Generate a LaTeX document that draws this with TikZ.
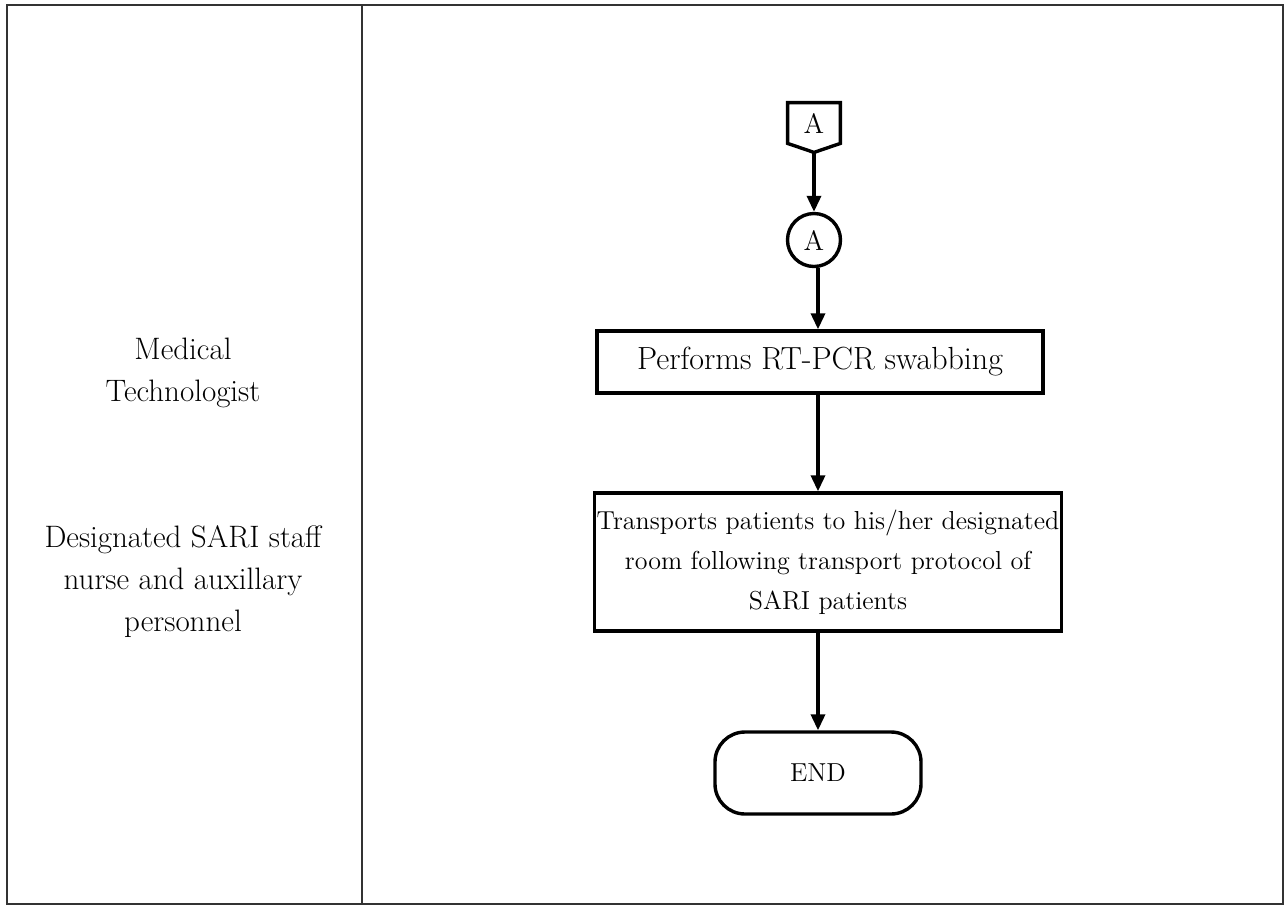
\documentclass[tikz,border=0pt]{standalone}
\usetikzlibrary{calc,arrows.meta}

\begin{document}
\begin{tikzpicture}[x=0.5pt,y=-0.5pt,
  lane/.style={draw=black!80,line width=0.6pt},
  lanetext/.style={align=center,font=\fontsize{15.5}{21}\selectfont},
  flowbox/.style={draw,line width=1.7pt,align=center,inner sep=1pt},
  flowarrow/.style={line width=1.7pt,-{Triangle[length=8pt,width=7pt]}}]
\useasboundingbox (0,0) rectangle (1287,907);

\draw[lane] (7,5) rectangle (1283,904);
\draw[lane] (362,5) -- (362,904);

\node[lanetext] (medtech) at (183,373) {Medical\\Technologist};
\node[lanetext] (sarinurse) at (183,582) {Designated SARI staff\\nurse and auxillary\\personnel};

\node[inner sep=0pt,minimum width=26pt,minimum height=20pt,font=\fontsize{14}{16}\selectfont] (offA) at (814,123) {A};
\draw[line width=1.7pt,line join=miter] (offA.north west) -- (offA.north east) -- (offA.south east)
  -- ($(offA.south)+(0,9)$) coordinate (offA tip) -- (offA.south west) -- cycle;

\node[draw,circle,line width=1.7pt,minimum size=26.5pt,inner sep=0pt,font=\fontsize{14}{16}\selectfont] (conA) at (814,240) {A};

\node[flowbox,minimum width=223pt,minimum height=31pt,font=\fontsize{16}{20}\selectfont] (swab) at (820,362) {Performs RT-PCR swabbing};
\node[flowbox,minimum width=231pt,minimum height=69pt,font=\fontsize{13}{20}\selectfont] (transport) at (828,562)
  {Transports patients to his/her designated\\room following transport protocol of\\SARI patients};
\node[flowbox,rounded corners=15pt,minimum width=103pt,minimum height=41pt,font=\fontsize{13}{16}\selectfont] (stop) at (818,773) {END};

\draw[flowarrow] (offA tip) -- (conA);
\draw[flowarrow] (conA.south -| stop) -- (stop |- swab.north);
\draw[flowarrow] (swab.south -| stop) -- (stop |- transport.north);
\draw[flowarrow] (transport.south -| stop) -- (stop);

\end{tikzpicture}
\end{document}
